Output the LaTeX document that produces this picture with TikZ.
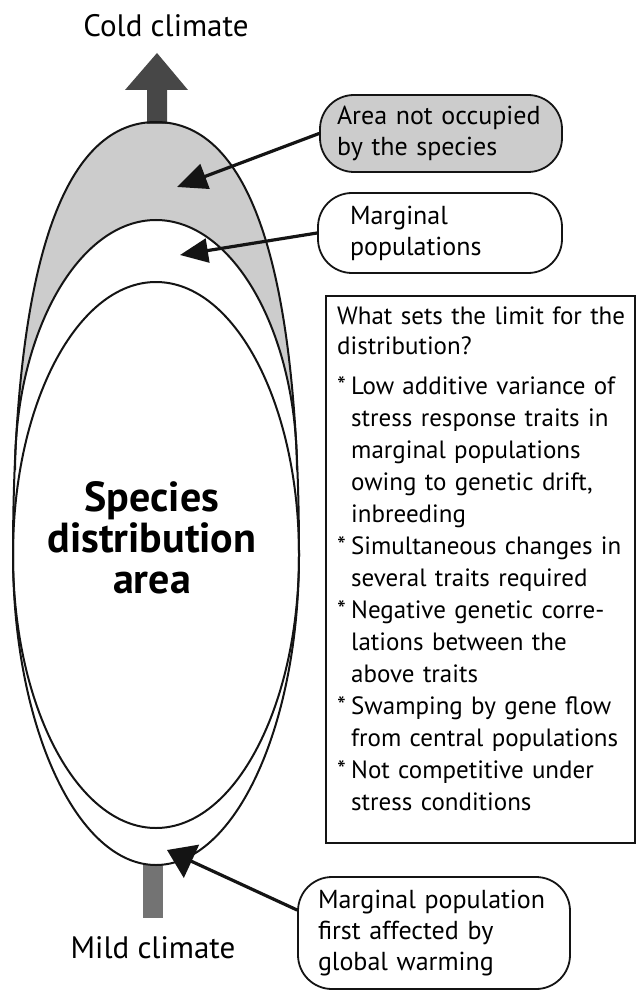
\documentclass[tikz,border=0pt]{standalone}
\usepackage{fontspec}
\setmainfont{PT Sans}
\usetikzlibrary{arrows.meta}
\definecolor{areagray}{gray}{0.80}
\definecolor{coldgray}{gray}{0.28}
\definecolor{mildgray}{gray}{0.45}
\definecolor{inkgray}{gray}{0.08}
\newcommand{\ruleitem}{\makebox[14pt][l]{*}}
\newcommand{\rulecont}{\hspace*{14pt}}
\begin{document}
\begin{tikzpicture}[x=1pt,y=-1pt,
  outline/.style={line width=2pt, line join=round, draw=inkgray},
  callout/.style={draw=inkgray, line width=1.8pt, rounded corners=34pt, align=left,
    inner ysep=0pt, font=\fontsize{26}{31}\selectfont},
  pointer/.style={line width=3.2pt, draw=inkgray, line cap=round},
  climlabel/.style={font=\fontsize{31}{36}\selectfont, inner sep=0pt},
]
\useasboundingbox (0,0) rectangle (636,992);

% grey band: area not occupied
\fill[areagray] (13,555) .. controls (13,269) and (61.6,122) .. (156,122)
  .. controls (250.4,122) and (299,269) .. (299,555) -- cycle;
% white: marginal populations and below
\fill[white] (15,470) .. controls (15,332.5) and (78.5,220) .. (156,220)
  .. controls (233.5,220) and (297,332.5) .. (297,470) -- (299.5,568) -- (12.5,568) -- cycle;

% climate arrows
\fill[coldgray] (147,124) -- (147,90) -- (125,90) -- (157,53) -- (188,90)
  -- (167,90) -- (167,124) -- cycle;
\fill[mildgray] (143,864) rectangle (163,918);

% outlines
\draw[outline] (13,555) .. controls (13,269) and (61.6,122) .. (156,122)
  .. controls (250.4,122) and (299,269) .. (299,555)
  arc[start angle=0, end angle=-180, x radius=143pt, y radius=310pt];
\draw[outline] (15,470) .. controls (15,332.5) and (78.5,220) .. (156,220)
  .. controls (233.5,220) and (297,332.5) .. (297,470);
\draw[outline] (156,555) ellipse[x radius=143pt, y radius=273pt];

% labels
\node[climlabel, anchor=base] (cold) at (166,37) {Cold climate};
\node[climlabel, anchor=base] (mild) at (153,958) {Mild climate};
\node[font=\bfseries\fontsize{42}{41}\selectfont, align=center, inner sep=0pt]
  (species) at (152,538) {Species\\distribution\\area};

% callouts
\node[callout, fill=areagray, text width=208pt, inner xsep=17pt, minimum height=77pt]
  (c1) at (441,133.5) {Area not occupied\\by the species};
\node[callout, fill=white, text width=180pt, inner xsep=32pt, minimum height=80pt]
  (c2) at (440,233) {Marginal\\populations};
\node[callout, fill=white, text width=232pt, inner xsep=20pt, minimum height=112pt]
  (c3) at (434,933) {Marginal population\\first affected by\\global warming};

% rule box
\node[draw=inkgray, line width=1.6pt, minimum width=309pt, minimum height=547pt,
  anchor=north west, inner sep=0pt] (rules) at (325,295) {};
\node[anchor=north west, inner sep=0pt, text width=300pt, align=left,
  font=\fontsize{25}{32}\selectfont] (ruletext) at (337,307)
  {What sets the limit for the\\[-2pt]
   distribution?\\[8pt]
   \ruleitem Low additive variance of\\
   \rulecont stress response traits in\\
   \rulecont marginal populations\\
   \rulecont owing to genetic drift,\\
   \rulecont inbreeding\\
   \ruleitem Simultaneous changes in\\
   \rulecont several traits required\\
   \ruleitem Negative genetic corre-\\
   \rulecont lations between the\\
   \rulecont above traits\\
   \ruleitem Swamping by gene flow\\
   \rulecont from central populations\\
   \ruleitem Not competitive under\\
   \rulecont stress conditions};

% pointers
\coordinate (t1) at (177,187);
\coordinate (t2) at (180,255);
\coordinate (t3) at (167,850);
\draw[pointer, -{Triangle[length=30pt,width=26pt]}] (c1.west) -- (t1);
\draw[pointer, -{Triangle[length=28pt,width=24pt]}] (c2.west) -- (t2);
\draw[pointer, -{Triangle[length=27pt,width=36pt]}] ([yshift=23pt]c3.west) -- (t3);
\end{tikzpicture}
\end{document}
